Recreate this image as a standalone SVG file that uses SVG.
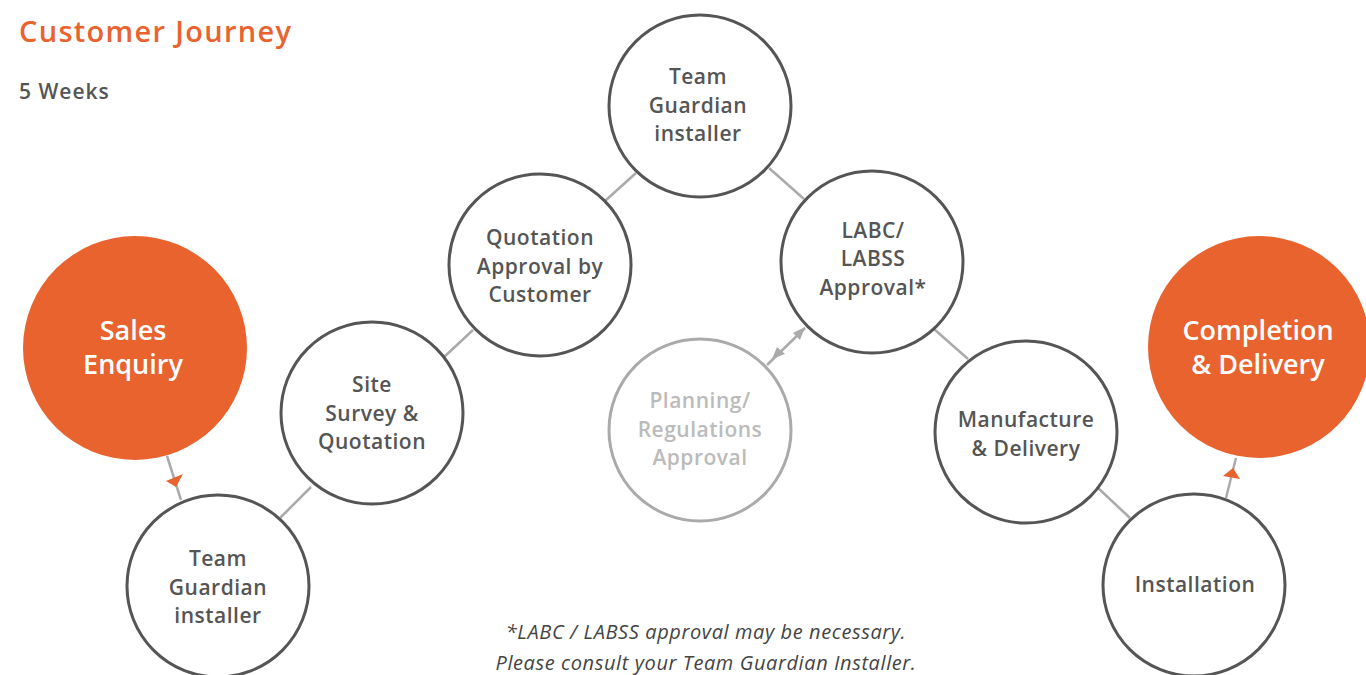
<svg xmlns="http://www.w3.org/2000/svg" width="1366" height="675" viewBox="0 0 1366 675">
<defs>
<style>
.node{fill:#fff;stroke:#555;stroke-width:3}
.hl{fill:#E8632E;stroke:none}
.ghost{fill:#fff;stroke:#aaa;stroke-width:3}
.lbl{font-family:"Open Sans","Liberation Sans",sans-serif;font-size:21px;font-weight:600;fill:#555;text-anchor:middle;letter-spacing:0.5px}
.lblg{font-family:"Open Sans","Liberation Sans",sans-serif;font-size:21px;font-weight:600;fill:#bbb;text-anchor:middle;letter-spacing:0.5px}
.big{font-family:"Open Sans","Liberation Sans",sans-serif;font-size:27px;font-weight:600;fill:#fff;text-anchor:middle}
.link{stroke:#aaa;stroke-width:2.5;fill:none}
.note{font-family:"Open Sans","Liberation Sans",sans-serif;font-size:20px;font-style:italic;fill:#444;text-anchor:middle;letter-spacing:0.6px}
</style>
</defs>
<rect width="1366" height="675" fill="#fff"/>
<text x="19" y="42" font-family="'Open Sans','Liberation Sans',sans-serif" font-size="29" font-weight="600" fill="#E8632E" letter-spacing="1.3">Customer Journey</text>
<text x="19" y="99" font-family="'Open Sans','Liberation Sans',sans-serif" font-size="21" font-weight="600" fill="#555" letter-spacing="1">5 Weeks</text>

<g id="connectors">
<line class="link" x1="167" y1="456" x2="181" y2="500"/>
<polygon points="166,481 183,474 176,487" fill="#E8632E"/>
<line class="link" x1="280" y1="518" x2="311" y2="487"/>
<line class="link" x1="443" y1="358" x2="473" y2="330"/>
<line class="link" x1="605" y1="201" x2="636" y2="173"/>
<line class="link" x1="769" y1="168" x2="804" y2="199"/>
<line class="link" x1="934" y1="329" x2="968" y2="359"/>
<line class="link" x1="1097" y1="487" x2="1130" y2="518"/>
<line class="link" x1="1226" y1="498" x2="1236" y2="458"/>
<polygon points="1223,476 1240,479 1233,468" fill="#E8632E"/>
<line class="link" x1="767" y1="365" x2="805" y2="328"/>
<polygon points="805,327 793,333 800,340" fill="#aaa"/>
<polygon points="772,359 777,347 785,354" fill="#aaa"/>
</g>

<g id="sales-enquiry">
<circle class="hl" cx="135" cy="348" r="112"/>
<text class="big" x="133" y="340">Sales</text>
<text class="big" x="133" y="374">Enquiry</text>
</g>
<g id="team-guardian-installer-1">
<circle class="node" cx="218" cy="586" r="91"/>
<text class="lbl" x="218" y="566">Team</text>
<text class="lbl" x="218" y="595">Guardian</text>
<text class="lbl" x="218" y="623">installer</text>
</g>
<g id="site-survey">
<circle class="node" cx="372" cy="413" r="91"/>
<text class="lbl" x="372" y="392">Site</text>
<text class="lbl" x="372" y="421">Survey &amp;</text>
<text class="lbl" x="372" y="449">Quotation</text>
</g>
<g id="quotation-approval">
<circle class="node" cx="540" cy="265" r="91"/>
<text class="lbl" x="540" y="245">Quotation</text>
<text class="lbl" x="540" y="274">Approval by</text>
<text class="lbl" x="540" y="302">Customer</text>
</g>
<g id="team-guardian-installer-2">
<circle class="node" cx="700" cy="106" r="91"/>
<text class="lbl" x="698" y="84">Team</text>
<text class="lbl" x="698" y="113">Guardian</text>
<text class="lbl" x="698" y="141">installer</text>
</g>
<g id="labc-approval">
<circle class="node" cx="872" cy="262" r="91"/>
<text class="lbl" x="873" y="238">LABC/</text>
<text class="lbl" x="873" y="266">LABSS</text>
<text class="lbl" x="873" y="295">Approval*</text>
</g>
<g id="planning-approval">
<circle class="ghost" cx="700" cy="430" r="91"/>
<text class="lblg" x="700" y="408">Planning/</text>
<text class="lblg" x="700" y="437">Regulations</text>
<text class="lblg" x="700" y="465">Approval</text>
</g>
<g id="manufacture-delivery">
<circle class="node" cx="1026" cy="432" r="91"/>
<text class="lbl" x="1026" y="427">Manufacture</text>
<text class="lbl" x="1026" y="456">&amp; Delivery</text>
</g>
<g id="installation">
<circle class="node" cx="1194" cy="585" r="91"/>
<text class="lbl" x="1195" y="592">Installation</text>
</g>
<g id="completion-delivery">
<circle class="hl" cx="1259" cy="347" r="111"/>
<text class="big" x="1258" y="340">Completion</text>
<text class="big" x="1258" y="374">&amp; Delivery</text>
</g>

<text class="note" x="706" y="639">*LABC / LABSS approval may be necessary.</text>
<text class="note" x="706" y="670">Please consult your Team Guardian Installer.</text>
</svg>
